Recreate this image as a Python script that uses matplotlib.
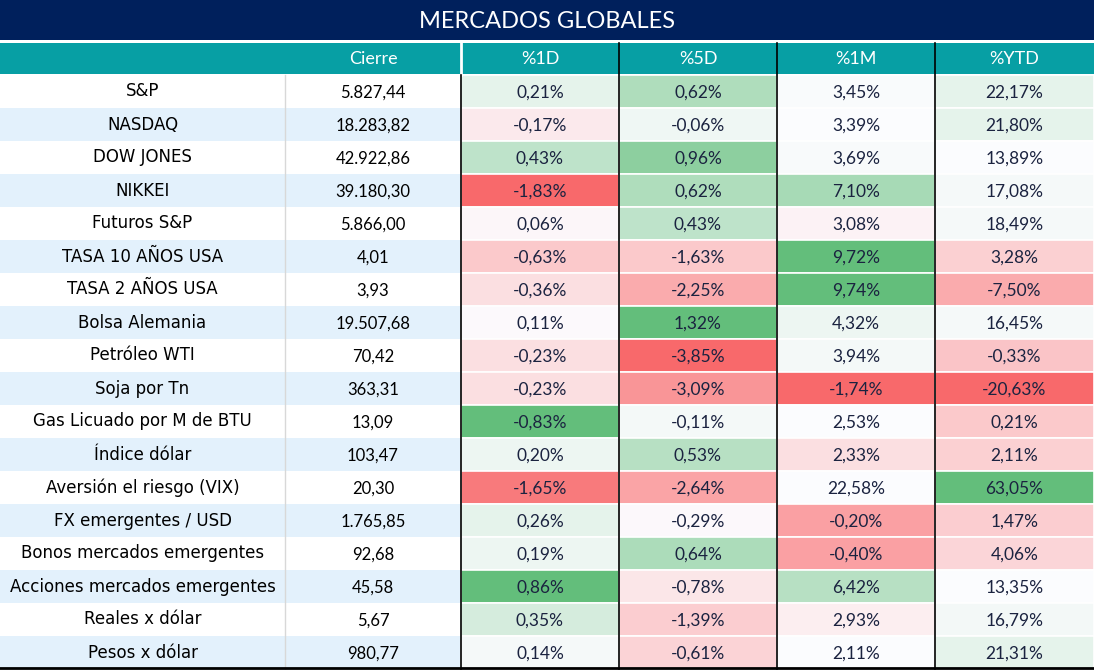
import matplotlib
matplotlib.use("Agg")
import matplotlib.pyplot as plt
from matplotlib.patches import Rectangle
from matplotlib.colors import LinearSegmentedColormap

title = "MERCADOS GLOBALES"
columns = ["", "Cierre", "%1D", "%5D", "%1M", "%YTD"]

labels = ["S&P", "NASDAQ", "DOW JONES", "NIKKEI", "Futuros S&P",
          "TASA 10 AÑOS USA", "TASA 2 AÑOS USA", "Bolsa Alemania",
          "Petróleo WTI", "Soja por Tn", "Gas Licuado por M de BTU",
          "Índice dólar", "Aversión el riesgo (VIX)", "FX emergentes / USD",
          "Bonos mercados emergentes", "Acciones mercados emergentes",
          "Reales x dólar", "Pesos x dólar"]

cierre = ["5.827,44", "18.283,82", "42.922,86", "39.180,30", "5.866,00",
          "4,01", "3,93", "19.507,68", "70,42", "363,31", "13,09", "103,47",
          "20,30", "1.765,85", "92,68", "45,58", "5,67", "980,77"]

pct_1d = ["0,21%", "-0,17%", "0,43%", "-1,83%", "0,06%", "-0,63%", "-0,36%",
          "0,11%", "-0,23%", "-0,23%", "-0,83%", "0,20%", "-1,65%", "0,26%",
          "0,19%", "0,86%", "0,35%", "0,14%"]
pct_5d = ["0,62%", "-0,06%", "0,96%", "0,62%", "0,43%", "-1,63%", "-2,25%",
          "1,32%", "-3,85%", "-3,09%", "-0,11%", "0,53%", "-2,64%", "-0,29%",
          "0,64%", "-0,78%", "-1,39%", "-0,61%"]
pct_1m = ["3,45%", "3,39%", "3,69%", "7,10%", "3,08%", "9,72%", "9,74%",
          "4,32%", "3,94%", "-1,74%", "2,53%", "2,33%", "22,58%", "-0,20%",
          "-0,40%", "6,42%", "2,93%", "2,11%"]
pct_ytd = ["22,17%", "21,80%", "13,89%", "17,08%", "18,49%", "3,28%", "-7,50%",
           "16,45%", "-0,33%", "-20,63%", "0,21%", "2,11%", "63,05%", "1,47%",
           "4,06%", "13,35%", "16,79%", "21,31%"]

# conditional-format intensity (-1 red .. 0 white .. 1 green)
heat_1d = [0.15, -0.13, 0.4, -1.0, -0.04, -0.35, -0.2, -0.02, -0.2, -0.2,
           1.0, 0.1, -0.88, 0.15, 0.1, 1.0, 0.25, 0.04]
heat_5d = [0.5, 0.08, 0.72, 0.5, 0.4, -0.35, -0.55, 1.0, -1.0, -0.7,
           0.05, 0.45, -0.6, -0.03, 0.52, -0.15, -0.32, -0.28]
heat_1m = [0.02, 0.0, 0.03, 0.55, -0.07, 1.0, 1.0, 0.1, 0.05, -1.0,
           0.0, -0.2, 0.0, -0.62, -0.62, 0.45, -0.1, 0.0]
heat_ytd = [0.15, 0.15, 0.0, 0.04, 0.04, -0.3, -0.55, 0.04, -0.38, -1.0,
            -0.35, -0.3, 1.0, -0.32, -0.26, 0.0, 0.06, 0.15]

pct_cols = [pct_1d, pct_5d, pct_1m, pct_ytd]
heat_cols = [heat_1d, heat_5d, heat_1m, heat_ytd]

cmap = LinearSegmentedColormap.from_list(
    "rwg", [(0, "#F8696B"), (0.5, "#FCFCFF"), (1, "#63BE7B")])

W, H = 1094, 670
col_w = [285, 176, 158, 158, 158, 159]
col_x = [sum(col_w[:i]) for i in range(len(col_w))]
title_h = 40
head_y, head_h = 43, 31
row_y0, row_h = 75, 33

plt.rcParams['font.family'] = ['Lato', 'DejaVu Sans']
fig = plt.figure(figsize=(W / 100, H / 100), dpi=100)
ax = fig.add_axes([0, 0, 1, 1])
ax.set_xlim(0, W)
ax.set_ylim(H, 0)
ax.axis("off")

# title bar
ax.add_patch(Rectangle((0, 0), W, title_h, color="#00205C", lw=0))
ax.text(W / 2, title_h / 2 + 1, title, color="white", fontsize=17,
        ha="center", va="center")

# header
ax.add_patch(Rectangle((0, head_y), W, head_h, color="#079FA4", lw=0))
for i, name in enumerate(columns):
    ax.text(col_x[i] + col_w[i] / 2, head_y + head_h / 2 + 1, name,
            color="white", fontsize=13, ha="center", va="center")

navy = "#1B2340"
for r, lab in enumerate(labels):
    y = row_y0 + r * row_h
    bg = "white" if r % 2 == 0 else "#E3F1FC"
    ax.add_patch(Rectangle((0, y), col_x[2], row_h, color=bg, lw=0))
    ax.text(col_w[0] / 2, y + row_h / 2, lab, fontsize=12, color="black",
            ha="center", va="center", family="DejaVu Sans")
    ax.text(col_x[1] + col_w[1] / 2, y + row_h / 2 + 1, cierre[r],
            fontsize=12, color="black", ha="center", va="center")
    for c in range(4):
        x = col_x[c + 2]
        ax.add_patch(Rectangle((x, y), col_w[c + 2], row_h,
                               facecolor=cmap((heat_cols[c][r] + 1) / 2),
                               edgecolor="white", lw=1.2))
        ax.text(x + col_w[c + 2] / 2, y + row_h / 2 + 1, pct_cols[c][r],
                fontsize=12.5, color=navy, ha="center", va="center")

y_end = row_y0 + len(labels) * row_h
# separators
ax.plot([col_x[1], col_x[1]], [row_y0, y_end], color="#D8D8D8", lw=1)
ax.plot([col_x[2], col_x[2]], [head_y, row_y0], color="white", lw=2)
ax.plot([col_x[2], col_x[2]], [row_y0, y_end], color="black", lw=1.2)
for c in range(3, 6):
    ax.plot([col_x[c], col_x[c]], [head_y, y_end], color="black", lw=1.2)
ax.plot([0, W], [y_end - 1, y_end - 1], color="black", lw=2)

fig.savefig("out.png", dpi=100)
